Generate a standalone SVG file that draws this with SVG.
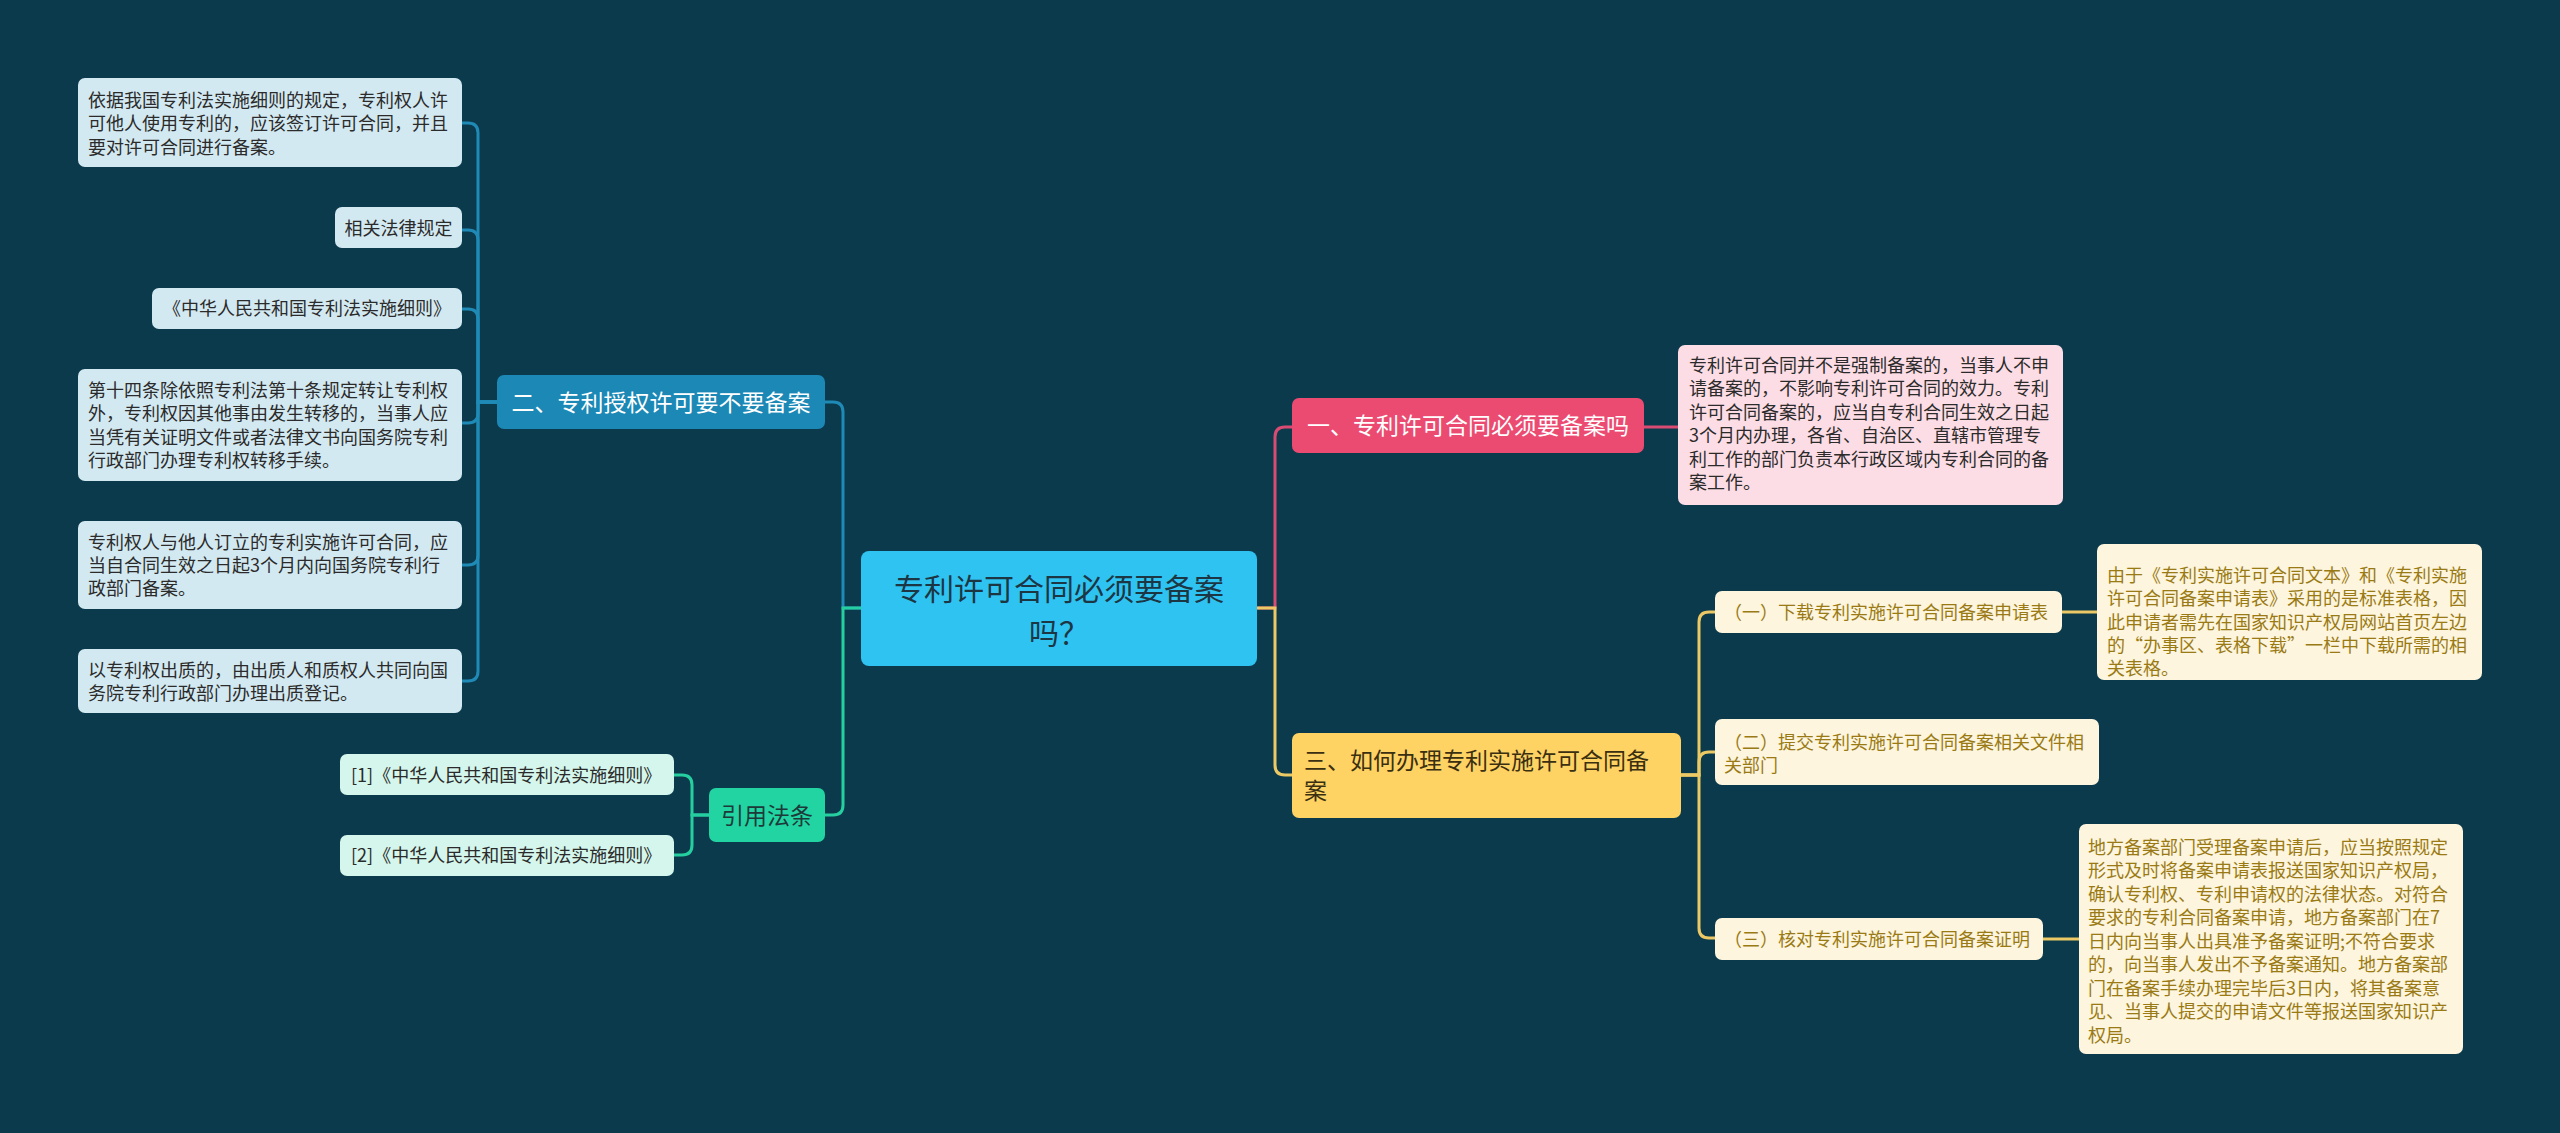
<svg xmlns="http://www.w3.org/2000/svg" width="2560" height="1133" viewBox="0 0 2560 1133">
<style>
text{font-family:"Noto Sans CJK SC","Noto Sans",sans-serif;}
.leafB{fill:#d3e9f1;}
.leafG{fill:#d4f6ec;}
.leafP{fill:#fddde5;}
.leafY{fill:#fdf5dd;}
.t18{font-size:18px;fill:#2b2b2b;}
.ty{font-size:18px;fill:#9a7a14;}
.t23{font-size:23px;}
.c{fill:none;stroke-width:3;}
.cb{stroke:#1f8ab6;}
.cg{stroke:#26cf9f;}
.cr{stroke:#d94b72;}
.cy{stroke:#ecc964;}
</style>
<rect width="2560" height="1133" fill="#0b3a4d"/>
<g id="connectors">
<path class="c cb" d="M861,608 H843 V412 Q843,402 833,402 H825"/>
<path class="c cg" d="M861,608 H843 V805 Q843,815 833,815 H825"/>
<path class="c cr" d="M1257,608 H1275 V437 Q1275,427 1285,427 H1292"/>
<path class="c cy" d="M1257,608 H1275 V765 Q1275,775 1285,775 H1292"/>
<path class="c cb" d="M497,402 H478 V133 Q478,123 468,123 H462"/>
<path class="c cb" d="M497,402 H478 V240 Q478,230 468,230 H462"/>
<path class="c cb" d="M497,402 H478 V319 Q478,309 468,309 H462"/>
<path class="c cb" d="M497,402 H478 V413 Q478,423 468,423 H462"/>
<path class="c cb" d="M497,402 H478 V555 Q478,565 468,565 H462"/>
<path class="c cb" d="M497,402 H478 V671 Q478,681 468,681 H462"/>
<path class="c cg" d="M709,815 H692 V785 Q692,775 682,775 H674"/>
<path class="c cg" d="M709,815 H692 V845 Q692,855 682,855 H674"/>
<path class="c cr" d="M1644,427 H1678"/>
<path class="c cy" d="M1681,775 H1699 V622 Q1699,612 1709,612 H1715"/>
<path class="c cy" d="M1681,775 H1699 V762 Q1699,752 1709,752 H1715"/>
<path class="c cy" d="M1681,775 H1699 V928 Q1699,938 1709,938 H1715"/>
<path class="c cy" d="M2062,612 H2097"/>
<path class="c cy" d="M2043,939 H2079"/>
</g>
<g id="center">
<rect x="861" y="551" width="396" height="115" rx="8" fill="#2fc3f2"/>
<text text-anchor="middle" font-size="30" fill="#1d3644"><tspan x="1059" y="600">专利许可合同必须要备案</tspan><tspan x="1059" y="644">吗？</tspan></text>
</g>
<g id="n-er">
<rect x="497" y="375" width="328" height="54" rx="7" fill="#1b88b6"/>
<text x="661" y="411" text-anchor="middle" class="t23" fill="#ffffff">二、专利授权许可要不要备案</text>
</g>
<g id="l1">
<rect class="leafB" x="78" y="78" width="384" height="89" rx="7"/>
<text class="t18" x="88"><tspan x="88" y="107">依据我国专利法实施细则的规定，专利权人许</tspan><tspan x="88" y="130">可他人使用专利的，应该签订许可合同，并且</tspan><tspan x="88" y="154">要对许可合同进行备案。</tspan></text>
</g>
<g id="l2">
<rect class="leafB" x="335" y="207" width="127" height="41" rx="7"/>
<text class="t18" x="398.5" y="235" text-anchor="middle">相关法律规定</text>
</g>
<g id="l3">
<rect class="leafB" x="152" y="288" width="310" height="41" rx="7"/>
<text class="t18" x="307" y="315" text-anchor="middle">《中华人民共和国专利法实施细则》</text>
</g>
<g id="l4">
<rect class="leafB" x="78" y="369" width="384" height="112" rx="7"/>
<text class="t18"><tspan x="88" y="397">第十四条除依照专利法第十条规定转让专利权</tspan><tspan x="88" y="420">外，专利权因其他事由发生转移的，当事人应</tspan><tspan x="88" y="444">当凭有关证明文件或者法律文书向国务院专利</tspan><tspan x="88" y="467">行政部门办理专利权转移手续。</tspan></text>
</g>
<g id="l5">
<rect class="leafB" x="78" y="521" width="384" height="88" rx="7"/>
<text class="t18"><tspan x="88" y="549">专利权人与他人订立的专利实施许可合同，应</tspan><tspan x="88" y="572">当自合同生效之日起3个月内向国务院专利行</tspan><tspan x="88" y="595">政部门备案。</tspan></text>
</g>
<g id="l6">
<rect class="leafB" x="78" y="649" width="384" height="64" rx="7"/>
<text class="t18"><tspan x="88" y="677">以专利权出质的，由出质人和质权人共同向国</tspan><tspan x="88" y="700">务院专利行政部门办理出质登记。</tspan></text>
</g>
<g id="n-yin">
<rect x="709" y="788" width="116" height="54" rx="7" fill="#22d4a1"/>
<text x="767" y="824" text-anchor="middle" class="t23" fill="#1d3a3a">引用法条</text>
</g>
<g id="r1">
<rect class="leafG" x="340" y="754" width="334" height="41" rx="7"/>
<text class="t18" x="351" y="782">[1]《中华人民共和国专利法实施细则》</text>
</g>
<g id="r2">
<rect class="leafG" x="340" y="835" width="334" height="41" rx="7"/>
<text class="t18" x="351" y="862">[2]《中华人民共和国专利法实施细则》</text>
</g>
<g id="n-yi">
<rect x="1292" y="398" width="352" height="55" rx="7" fill="#ec4b71"/>
<text x="1468" y="434" text-anchor="middle" class="t23" fill="#ffffff">一、专利许可合同必须要备案吗</text>
</g>
<g id="p1">
<rect class="leafP" x="1678" y="345" width="385" height="160" rx="7"/>
<text class="t18"><tspan x="1689" y="372">专利许可合同并不是强制备案的，当事人不申</tspan><tspan x="1689" y="395">请备案的，不影响专利许可合同的效力。专利</tspan><tspan x="1689" y="419">许可合同备案的，应当自专利合同生效之日起</tspan><tspan x="1689" y="442">3个月内办理，各省、自治区、直辖市管理专</tspan><tspan x="1689" y="466">利工作的部门负责本行政区域内专利合同的备</tspan><tspan x="1689" y="489">案工作。</tspan></text>
</g>
<g id="n-san">
<rect x="1292" y="733" width="389" height="85" rx="7" fill="#ffd264"/>
<text class="t23" fill="#3a2f10"><tspan x="1304" y="769">三、如何办理专利实施许可合同备</tspan><tspan x="1304" y="799">案</tspan></text>
</g>
<g id="s1">
<rect class="leafY" x="1715" y="591" width="347" height="42" rx="7"/>
<text class="ty" x="1724" y="619">（一）下载专利实施许可合同备案申请表</text>
</g>
<g id="s2">
<rect class="leafY" x="1715" y="719" width="384" height="66" rx="7"/>
<text class="ty"><tspan x="1724" y="749">（二）提交专利实施许可合同备案相关文件相</tspan><tspan x="1724" y="772">关部门</tspan></text>
</g>
<g id="s3">
<rect class="leafY" x="1715" y="918" width="328" height="42" rx="7"/>
<text class="ty" x="1724" y="946">（三）核对专利实施许可合同备案证明</text>
</g>
<g id="d1">
<rect class="leafY" x="2097" y="544" width="385" height="136" rx="7"/>
<text class="ty"><tspan x="2107" y="582">由于《专利实施许可合同文本》和《专利实施</tspan><tspan x="2107" y="605">许可合同备案申请表》采用的是标准表格，因</tspan><tspan x="2107" y="629">此申请者需先在国家知识产权局网站首页左边</tspan><tspan x="2107" y="652">的“办事区、表格下载”一栏中下载所需的相</tspan><tspan x="2107" y="675">关表格。</tspan></text>
</g>
<g id="d3">
<rect class="leafY" x="2079" y="824" width="384" height="230" rx="7"/>
<text class="ty"><tspan x="2088" y="854">地方备案部门受理备案申请后，应当按照规定</tspan><tspan x="2088" y="877">形式及时将备案申请表报送国家知识产权局，</tspan><tspan x="2088" y="901">确认专利权、专利申请权的法律状态。对符合</tspan><tspan x="2088" y="924">要求的专利合同备案申请，地方备案部门在7</tspan><tspan x="2088" y="948">日内向当事人出具准予备案证明;不符合要求</tspan><tspan x="2088" y="971">的，向当事人发出不予备案通知。地方备案部</tspan><tspan x="2088" y="995">门在备案手续办理完毕后3日内，将其备案意</tspan><tspan x="2088" y="1018">见、当事人提交的申请文件等报送国家知识产</tspan><tspan x="2088" y="1042">权局。</tspan></text>
</g>
</svg>
